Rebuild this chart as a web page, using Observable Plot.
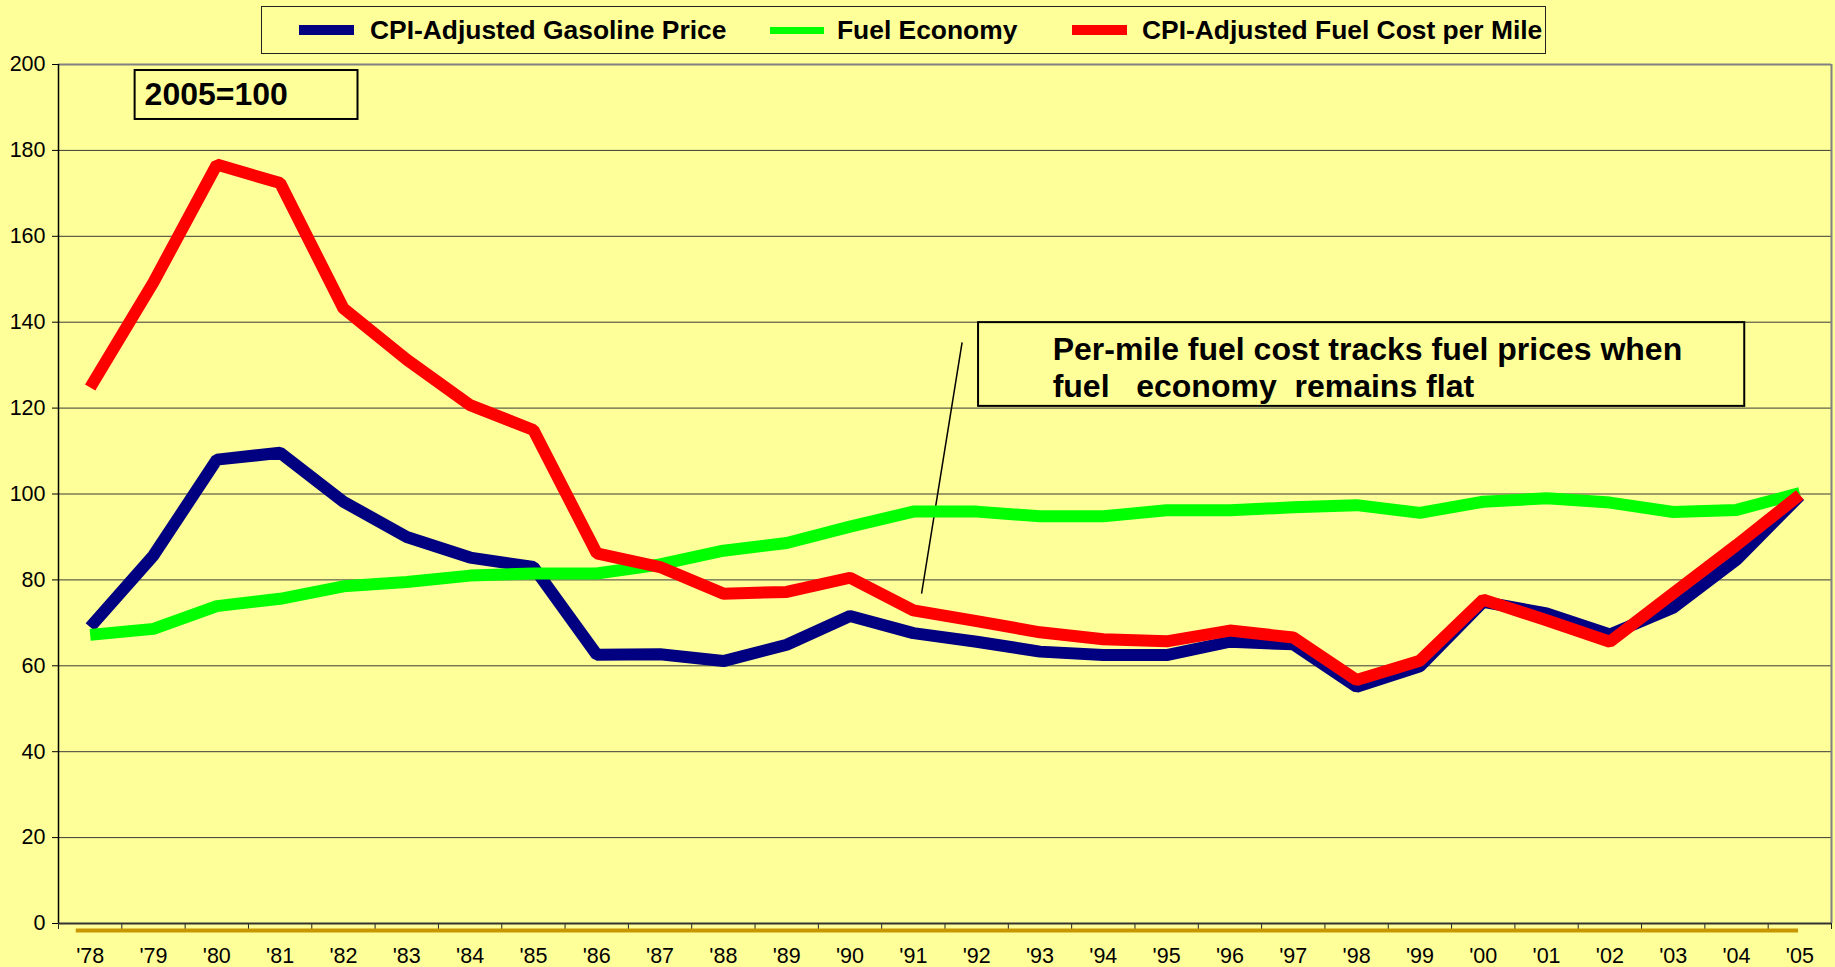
<!DOCTYPE html>
<html>
<head>
<meta charset="utf-8">
<script src="https://cdn.jsdelivr.net/npm/d3@7"></script>
<script src="https://cdn.jsdelivr.net/npm/@observablehq/plot@0.6"></script>
<style>
  html, body { margin: 0; padding: 0; background: #ffff99; }
  body { width: 1835px; height: 967px; overflow: hidden; font-family: "Liberation Sans", Arial, sans-serif; }
  #legendWrap { position: relative; height: 58px; }
  #legend { position: absolute; left: 261px; top: 6px; width: 1283px; height: 46px; border: 1px solid #222; background: #ffff99; }
  #legend .sw { position: absolute; }
  #legend .lt { position: absolute; top: 6px; font-weight: bold; font-size: 26.4px; line-height: 34px; color: #000; white-space: nowrap; }
  svg text.pre { white-space: pre; }
</style>
</head>
<body>
<div id="legendWrap"><div id="legend"></div></div>
<div id="chart"></div>
<script>
// ---- Data (2005 = 100) ----
const years = [1978,1979,1980,1981,1982,1983,1984,1985,1986,1987,1988,1989,1990,1991,1992,1993,1994,1995,1996,1997,1998,1999,2000,2001,2002,2003,2004,2005];
const gasPrice = [69.0,85.7,108.0,109.6,98.2,90.0,85.2,83.0,62.6,62.7,61.1,64.9,71.6,67.6,65.6,63.3,62.5,62.5,65.6,65.0,55.1,59.9,74.9,72.2,67.3,73.5,84.7,99.6];
const fuelEconomy = [67.2,68.6,73.9,75.6,78.5,79.5,81.0,81.5,81.5,83.6,86.8,88.6,92.4,95.9,95.9,94.8,94.8,96.2,96.2,96.9,97.4,95.6,98.2,99.0,98.0,95.8,96.3,100.2];
const costPerMile = [124.8,149.3,176.7,172.4,143.2,131.3,120.7,114.9,86.2,83.0,76.8,77.2,80.5,72.9,70.4,67.8,66.2,65.7,68.2,66.6,56.7,61.2,75.4,70.6,65.6,76.9,88.1,99.8];

const seriesNames = ["CPI-Adjusted Gasoline Price", "Fuel Economy", "CPI-Adjusted Fuel Cost per Mile"];
const seriesColors = ["#000080", "#00ff00", "#ff0000"];
const yTicks = [0,20,40,60,80,100,120,140,160,180,200];

// annotations (in data units)
const baseBox = [{x1: 1978.71, x2: 1982.23, y1: 187.2, y2: 198.6}];
const baseText = [{x: 1978.86, y: 192.9, text: "2005=100"}];
const noteBox = [{x1: 1992.03, x2: 2004.13, y1: 120.4, y2: 139.9}];
const noteText = [
  {x: 1993.2, y: 133.6, text: "Per-mile fuel cost tracks fuel prices when"},
  {x: 1993.2, y: 125.0, text: "fuel   economy  remains flat"}
];
const pointer = [{x1: 1991.77, y1: 135.3, x2: 1991.13, y2: 76.8}];

const table = [];
[gasPrice, fuelEconomy, costPerMile].forEach((vals, s) => {
  vals.forEach((v, i) => table.push({series: seriesNames[s], year: years[i], value: v}));
});

// ---- Legend ----
const legend = document.getElementById("legend");
const legendItems = [
  {sw: 37, w: 55, h: 10, t: 108},
  {sw: 508, w: 54, h: 7, t: 575},
  {sw: 810, w: 55, h: 10, t: 880}
];
legendItems.forEach((it, i) => {
  const s = document.createElement("div");
  s.className = "sw";
  s.style.left = it.sw + "px";
  s.style.width = it.w + "px";
  s.style.height = it.h + "px";
  s.style.top = (23 - it.h / 2) + "px";
  s.style.background = seriesColors[i];
  legend.appendChild(s);
  const t = document.createElement("div");
  t.className = "lt";
  t.style.left = it.t + "px";
  t.textContent = seriesNames[i];
  legend.appendChild(t);
});

// ---- Chart ----
const halfTicks = d3.range(1977.5, 2006, 1);
const chart = Plot.plot({
  width: 1835,
  height: 909,
  marginLeft: 58,
  marginRight: 4,
  marginTop: 6,
  marginBottom: 44,
  style: {background: "#ffff99", fontFamily: "Liberation Sans, Arial, sans-serif", color: "#000", overflow: "visible"},
  x: {domain: [1977.5, 2005.5]},
  y: {domain: [0, 200]},
  marks: [
    Plot.gridY(yTicks.filter(d => d > 0 && d < 200), {stroke: "#3a3a3a", strokeOpacity: 1, strokeWidth: 1}),
    Plot.ruleY([200], {stroke: "#808080", strokeWidth: 2}),
    Plot.ruleX([2005.5], {y1: 0, y2: 200, stroke: "#808080", strokeWidth: 2}),
    Plot.axisY(yTicks, {tickSize: 6, tickPadding: 7, fontSize: 21.5, label: null, stroke: "#000"}),
    Plot.ruleX([1977.5], {y1: 0, y2: 200, stroke: "#000", strokeWidth: 1.5}),
    Plot.axisX(years, {tickSize: 0, tickPadding: 24, fontSize: 21.5, label: null, tickFormat: d => "'" + String(d).slice(2)}),
    Plot.axisX(halfTicks, {tickSize: 6, tickFormat: () => "", label: null, stroke: "#222"}),
    Plot.ruleY([0], {stroke: "#333", strokeWidth: 2}),
    Plot.ruleY([0], {x1: 1977.78, x2: 2004.98, stroke: "#c89600", strokeWidth: 4, dy: 7}),
    Plot.rect(baseBox, {x1: "x1", x2: "x2", y1: "y1", y2: "y2", fill: "#ffff99", stroke: "#000", strokeWidth: 2}),
    Plot.text(baseText, {x: "x", y: "y", text: "text", textAnchor: "start", fontSize: 32, fontWeight: "bold", fill: "#000"}),
    Plot.rect(noteBox, {x1: "x1", x2: "x2", y1: "y1", y2: "y2", fill: "#ffff99", stroke: "#000", strokeWidth: 2}),
    Plot.text(noteText, {x: "x", y: "y", text: "text", textAnchor: "start", fontSize: 32, fontWeight: "bold", fill: "#000", className: "pre"}),
    Plot.link(pointer, {x1: "x1", y1: "y1", x2: "x2", y2: "y2", stroke: "#000", strokeWidth: 1.5}),
    ...seriesNames.map((name, i) => Plot.line(table.filter(d => d.series === name), {
      x: "year", y: "value", stroke: seriesColors[i], strokeWidth: 12,
      strokeLinejoin: "miter", strokeLinecap: "butt"
    }))
  ]
});
document.getElementById("chart").appendChild(chart);
</script>
</body>
</html>
